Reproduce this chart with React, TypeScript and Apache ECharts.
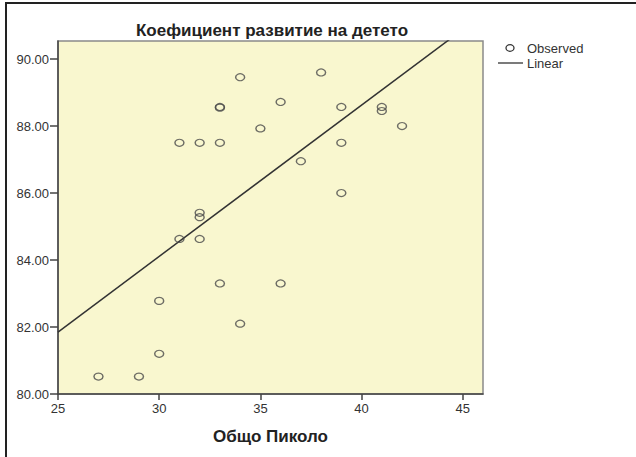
import React, { useEffect, useRef } from "react";
import * as echarts from "echarts";

const titleText = "Коефициент развитие на детето";
const xAxisTitle = "Общо Пиколо";
const legendLabels = ["Observed", "Linear"];

const xValues = [34, 33, 33, 36, 35, 31, 32, 33, 32, 32, 31, 32, 38, 39, 41, 41, 42, 39, 37, 39, 33, 36, 30, 34, 30, 27, 29];
const yValues = [89.46, 88.57, 88.55, 88.72, 87.93, 87.5, 87.5, 87.5, 85.41, 85.28, 84.63, 84.63, 89.6, 88.57, 88.57, 88.45, 88.0, 87.5, 86.95, 86.0, 83.3, 83.3, 82.78, 82.1, 81.2, 80.52, 80.52];

const fitIntercept = 81.85; // value at x = 25
const fitSlope = 0.4517;
const fitX = [25, 46];

const X_MIN = 25, X_MAX = 46, X_STEP = 5;
const Y_MIN = 80, Y_MAX = 90.54, Y_STEP = 2;

export default function App() {
  const ref = useRef<HTMLDivElement>(null);
  useEffect(() => {
    if (!ref.current) return;
    const chart = echarts.init(ref.current, null, { renderer: "svg" });
    const font = "'Liberation Sans', Arial, sans-serif";
    const scatterData = xValues.map((x, i) => [x, yValues[i]]);
    const lineData = fitX.map((x) => [x, fitIntercept + fitSlope * (x - 25)]);
    chart.setOption({
      animation: false,
      backgroundColor: "#ffffff",
      textStyle: { fontFamily: font },
      title: {
        text: titleText,
        left: 267,
        textAlign: "center",
        top: 17,
        textStyle: { fontSize: 17, fontWeight: "bold", color: "#222", fontFamily: font },
      },
      grid: {
        left: 58,
        top: 41,
        width: 425,
        height: 353,
        show: true,
        backgroundColor: "#F9F7CF",
        borderColor: "#8a8a8a",
        borderWidth: 1.5,
      },
      xAxis: {
        type: "value",
        min: X_MIN,
        max: X_MAX,
        interval: X_STEP,
        name: xAxisTitle,
        nameLocation: "middle",
        nameGap: 34,
        nameTextStyle: { fontSize: 17, fontWeight: "bold", color: "#222", fontFamily: font },
        axisLine: { show: true, lineStyle: { color: "#444", width: 1.5 } },
        axisTick: { show: true, length: 6, lineStyle: { color: "#444", width: 1.5 } },
        axisLabel: { fontSize: 13, color: "#333", margin: 8, showMaxLabel: false, fontFamily: font },
        splitLine: { show: false },
      },
      yAxis: {
        type: "value",
        min: Y_MIN,
        max: Y_MAX,
        interval: Y_STEP,
        axisLine: { show: true, lineStyle: { color: "#444", width: 1.5 } },
        axisTick: { show: true, length: 8, lineStyle: { color: "#444", width: 1.5 } },
        axisLabel: {
          fontSize: 13,
          color: "#333",
          margin: 9,
          showMaxLabel: false,
          fontFamily: font,
          formatter: (v: number) => v.toFixed(2),
        },
        splitLine: { show: false },
      },
      series: [
        {
          name: legendLabels[0],
          type: "scatter",
          data: scatterData,
          symbol: "circle",
          symbolSize: [9, 7],
          itemStyle: { color: "rgba(0,0,0,0)", borderColor: "#4a4a4a", borderWidth: 1.3 },
          z: 3,
        },
        {
          name: legendLabels[1],
          type: "line",
          data: lineData,
          symbol: "none",
          clip: true,
          lineStyle: { color: "#333", width: 1.5 },
          z: 2,
        },
      ],
      graphic: [
        { type: "rect", shape: { x: 5, y: 2, width: 640, height: 2 }, style: { fill: "#222" } },
        { type: "rect", shape: { x: 5, y: 2, width: 2, height: 460 }, style: { fill: "#222" } },
        {
          type: "ellipse",
          shape: { cx: 510, cy: 48, rx: 4, ry: 3.3 },
          style: { fill: "none", stroke: "#333", lineWidth: 1.3 },
        },
        {
          type: "text",
          x: 527,
          y: 48,
          style: { text: legendLabels[0], font: `13px ${font}`, fill: "#333", verticalAlign: "middle" },
        },
        {
          type: "line",
          shape: { x1: 498, y1: 63, x2: 523, y2: 63 },
          style: { stroke: "#333", lineWidth: 1.3 },
        },
        {
          type: "text",
          x: 527,
          y: 63,
          style: { text: legendLabels[1], font: `13px ${font}`, fill: "#333", verticalAlign: "middle" },
        },
      ],
    });
    return () => chart.dispose();
  }, []);
  return <div ref={ref} style={{ position: "absolute", left: 0, top: 0, width: 636, height: 457 }} />;
}
